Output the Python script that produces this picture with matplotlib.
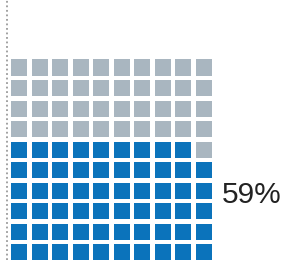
import matplotlib
matplotlib.use("Agg")
import matplotlib.pyplot as plt
from matplotlib.patches import Rectangle

# Data
value = 59          # percent filled
total = 100
ncols = 10
label = "59%"
colors = {"filled": "#0b73bb", "empty": "#a9b6c0"}

W, H = 286, 260
pitch = 20.5   # px per cell
sq = 16 / pitch
x0 = 11        # px left of first column

fig = plt.figure(figsize=(W / 100, H / 100), dpi=100)
ax = fig.add_axes([0, 0, 1, 1])
ax.set_xlim(-x0 / pitch, (W - x0) / pitch)
ax.set_ylim(0, H / pitch)
ax.axis("off")

for k in range(total):
    r, c = divmod(k, ncols)
    col = colors["filled"] if k < value else colors["empty"]
    ax.add_patch(Rectangle((c, r), sq, sq, facecolor=col, edgecolor="none"))

# dotted axis line on the left
ax.plot([-4 / pitch, -4 / pitch], [0, H / pitch], color="#9a9a9a",
        linestyle=(0, (1, 1.5)), linewidth=1.3, clip_on=False)

ax.text((222 - x0) / pitch, (H - 195) / pitch, label, fontsize=21.5,
        family="Liberation Sans", color="#222222", va="center", ha="left")

fig.savefig("out.png", dpi=100)
